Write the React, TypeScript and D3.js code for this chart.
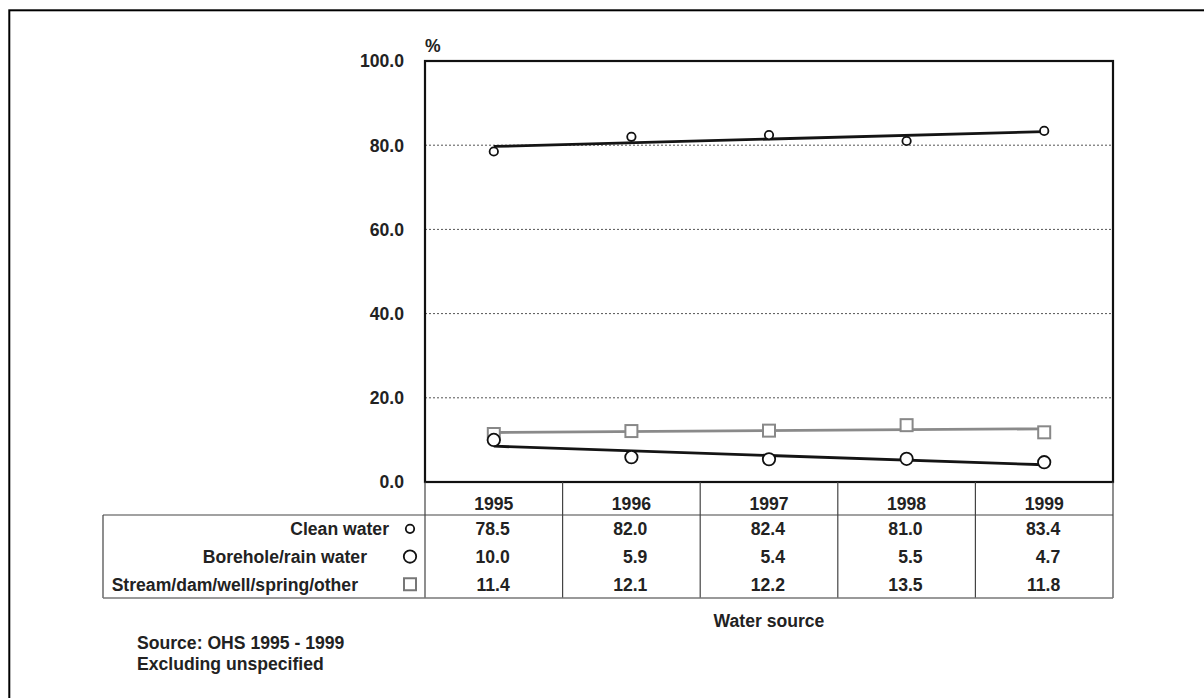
import React from "react";
import * as d3 from "d3";

const years = ["1995", "1996", "1997", "1998", "1999"];
const seriesNames = ["Clean water", "Borehole/rain water", "Stream/dam/well/spring/other"];
const cleanWater = [78.5, 82.0, 82.4, 81.0, 83.4];
const boreholeRain = [10.0, 5.9, 5.4, 5.5, 4.7];
const streamOther = [11.4, 12.1, 12.2, 13.5, 11.8];
const yTicks = [0, 20, 40, 60, 80, 100];
const gridTicks = [20, 40, 60, 80];
const yAxisUnit = "%";
const xAxisTitle = "Water source";
const notes = ["Source: OHS 1995 - 1999", "Excluding unspecified"];

const W = 1204;
const H = 698;
const plot = { left: 425, right: 1113, top: 61, bottom: 482 };
const table = { left: 103, headerBottom: 515, bottom: 598, rowH: 27.7 };
const FONT = "'Liberation Sans', Arial, sans-serif";
const FS = 17.6;
const TXT = "#222";

type Marker = "smallCircle" | "circle" | "square";
const seriesStyle: { marker: Marker; color: string; lineColor: string; labelEnd: number }[] = [
  { marker: "smallCircle", color: "#111", lineColor: "#141414", labelEnd: 389 },
  { marker: "circle", color: "#111", lineColor: "#141414", labelEnd: 367 },
  { marker: "square", color: "#888", lineColor: "#8a8a8a", labelEnd: 358 },
];

function regression(vals: number[]) {
  const n = vals.length;
  const xs = vals.map((_, i) => i);
  const mx = d3.mean(xs) as number;
  const my = d3.mean(vals) as number;
  let sxy = 0;
  let sxx = 0;
  xs.forEach((x, i) => {
    sxy += (x - mx) * (vals[i] - my);
    sxx += (x - mx) * (x - mx);
  });
  const slope = sxy / sxx;
  const b = my - slope * mx;
  return [b, b + slope * (n - 1)];
}

function MarkerShape({ type, x, y, color }: { type: Marker; x: number; y: number; color: string }) {
  if (type === "smallCircle")
    return <circle cx={x} cy={y} r={4.2} fill="#fff" stroke={color} strokeWidth={1.8} />;
  if (type === "circle")
    return <circle cx={x} cy={y} r={6.2} fill="#fff" stroke={color} strokeWidth={1.8} />;
  return <rect x={x - 6} y={y - 6} width={12} height={12} fill="#fff" stroke={color} strokeWidth={2} />;
}

export default function App() {
  const data = [cleanWater, boreholeRain, streamOther];
  const x = d3.scalePoint<string>().domain(years).range([plot.left, plot.right]).padding(0.5);
  const band = (plot.right - plot.left) / years.length;
  const y = d3.scaleLinear().domain([0, 100]).range([plot.bottom, plot.top]);
  const fmt = d3.format(".1f");
  const drawOrder = [2, 1, 0];

  return (
    <svg
      width={W}
      height={H}
      style={{ position: "absolute", left: 0, top: 0, display: "block", background: "#fff" }}
      fontFamily={FONT}
      fontWeight="bold"
      fontSize={FS}
    >
      <rect x={0} y={0} width={W} height={H} fill="#fff" />
      {/* outer frame */}
      <rect x={9.3} y={10.3} width={1400} height={1000} fill="none" stroke="#000" strokeWidth={2} />

      {/* gridlines */}
      {gridTicks.map((t) => (
        <line
          key={t}
          x1={plot.left}
          x2={plot.right}
          y1={y(t)}
          y2={y(t)}
          stroke="#555"
          strokeWidth={1}
          strokeDasharray="2,2"
        />
      ))}

      {/* y axis labels */}
      {yTicks.map((t) => (
        <text key={t} x={404} y={y(t)} dy="0.36em" textAnchor="end" fill={TXT}>
          {fmt(t)}
        </text>
      ))}
      <text x={425} y={52} fill={TXT}>
        {yAxisUnit}
      </text>

      {/* trend lines and markers */}
      {drawOrder.map((si) => {
        const vals = data[si];
        const st = seriesStyle[si];
        const [a, b] = regression(vals);
        return (
          <g key={si}>
            <line
              x1={x(years[0])}
              x2={x(years[years.length - 1])}
              y1={y(a)}
              y2={y(b)}
              stroke={st.lineColor}
              strokeWidth={2.8}
            />
            {vals.map((v, i) => (
              <MarkerShape key={i} type={st.marker} x={x(years[i]) as number} y={y(v)} color={st.color} />
            ))}
          </g>
        );
      })}

      {/* plot border */}
      <rect
        x={plot.left}
        y={plot.top}
        width={plot.right - plot.left}
        height={plot.bottom - plot.top}
        fill="none"
        stroke="#111"
        strokeWidth={2.2}
      />

      {/* data table lines */}
      <g stroke="#444" strokeWidth={1.2} fill="none">
        {years.map((yr, i) => (
          <line
            key={yr}
            x1={plot.left + band * (i + 1)}
            x2={plot.left + band * (i + 1)}
            y1={plot.bottom}
            y2={table.bottom}
          />
        ))}
        <line x1={plot.left} x2={plot.left} y1={plot.bottom} y2={table.bottom} />
        <line x1={table.left} x2={plot.right} y1={table.headerBottom} y2={table.headerBottom} />
        <line x1={table.left} x2={table.left} y1={table.headerBottom} y2={table.bottom} />
      </g>
      <line x1={table.left} x2={plot.right} y1={table.bottom} y2={table.bottom} stroke="#777" strokeWidth={1.6} />

      {/* header years */}
      {years.map((yr) => (
        <text key={yr} x={x(yr)} y={510} textAnchor="middle" fill={TXT}>
          {yr}
        </text>
      ))}

      {/* rows */}
      {data.map((vals, si) => {
        const st = seriesStyle[si];
        const cy = table.headerBottom + table.rowH * (si + 0.5);
        const base = cy + 6.5;
        return (
          <g key={si}>
            <text x={st.labelEnd} y={base} textAnchor="end" fill={TXT}>
              {seriesNames[si]}
            </text>
            <MarkerShape
              type={st.marker}
              x={410}
              y={cy}
              color={st.marker === "square" ? "#777" : "#111"}
            />
            {vals.map((v, i) => (
              <text key={i} x={(x(years[i]) as number) + 16} y={base} textAnchor="end" fill={TXT}>
                {fmt(v)}
              </text>
            ))}
          </g>
        );
      })}

      {/* x axis title */}
      <text x={(plot.left + plot.right) / 2} y={627} textAnchor="middle" fill={TXT}>
        {xAxisTitle}
      </text>

      {/* notes */}
      {notes.map((n, i) => (
        <text key={i} x={137} y={649 + i * 21} fill={TXT}>
          {n}
        </text>
      ))}
    </svg>
  );
}
